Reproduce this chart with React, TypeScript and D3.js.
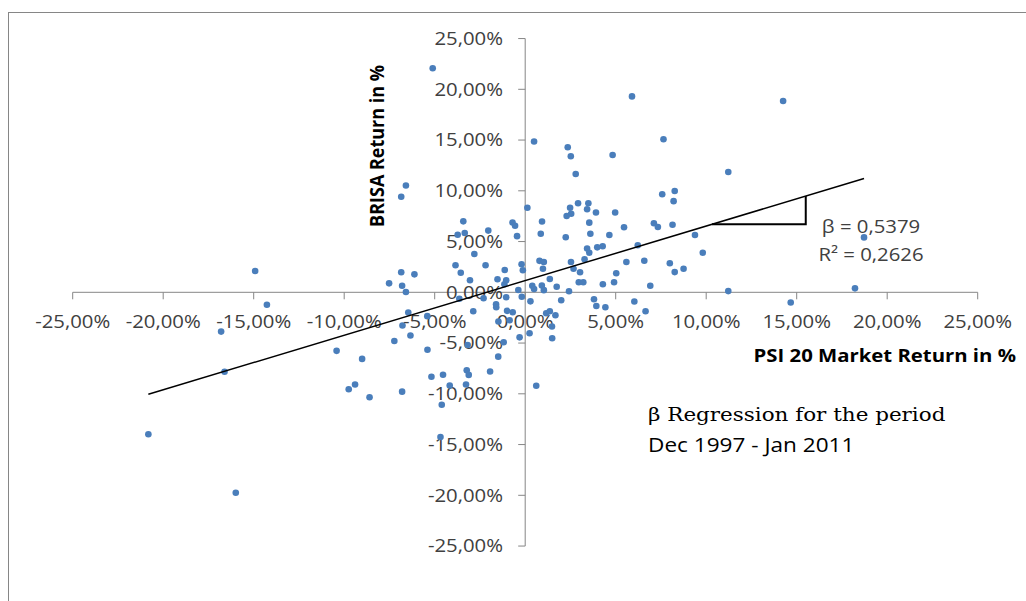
import * as d3 from 'd3';

// PSI 20 monthly market return (%), x axis
const psiReturns = [
  -5.11, -6.59, -6.85, 0.12, -3.42, -0.70, -0.56, -3.34, -3.73, -2.04,
  -0.45, -2.81, -3.85, -2.19, -1.13, -0.20, -0.13, -6.85, -6.12, -7.52,
  -6.80, -3.56, -3.05, -1.53, -1.05, -1.15, -6.59, -0.38, -3.64, -2.30,
  -1.61, -1.60, -1.05, -0.19, 0.29, -6.46, -2.87, -5.41, -1.00, -0.69,
  -0.86, -1.48, -6.78, -6.34, -7.23, -5.40, -3.18, -1.19, -0.31, -10.42,
  -9.01, -1.49, -5.18, -4.54, -3.23, -3.12, -1.94, -9.75, -9.40, -8.60,
  -6.80, -3.27, -4.17, -4.61, -4.68, -20.82, -15.99, -16.61, -14.92, -14.27,
  -16.80, 2.79, 2.92, 3.49, 2.48, 3.42, 3.91, 2.54, 2.29, 4.97,
  7.57, 8.26, 8.20, 0.93, 3.54, 7.11, 7.33, 8.14, 5.46, 0.86,
  3.60, 4.65, 2.24, 9.38, 3.42, 3.54, 3.98, 4.28, 6.22, 9.81,
  0.79, 1.03, 2.53, 3.28, 5.59, 6.58, 7.99, 0.98, 2.67, 3.03,
  5.03, 8.26, 8.75, 1.36, 0.39, 0.49, 0.92, 1.03, 1.74, 2.42,
  2.96, 3.21, 4.29, 4.91, 6.91, 1.99, 3.80, 3.93, 4.43, 6.03,
  6.65, 1.16, 1.36, 1.67, 1.48, 0.24, 1.49, 0.61, 5.90, 0.49,
  7.64, 2.35, 2.52, 4.83, 11.22, 14.25, 18.72, 11.22, 18.22, 14.67,
];

// BRISA monthly return (%), y axis
const brisaReturns = [
  22.07, 10.52, 9.42, 8.33, 6.99, 6.88, 6.56, 5.84, 5.67, 6.08,
  5.53, 3.77, 2.67, 2.66, 2.20, 2.76, 2.17, 1.98, 1.77, 0.88,
  0.65, 1.92, 1.19, 1.29, 1.19, 0.80, 0.03, 0.23, -0.64, -0.59,
  -1.18, -1.48, -0.49, -0.44, -0.89, -1.99, -1.87, -2.35, -1.83, -1.97,
  -2.76, -2.88, -3.27, -4.25, -4.80, -5.66, -5.19, -4.92, -4.44, -5.77,
  -6.56, -6.34, -8.32, -8.13, -7.68, -8.14, -7.80, -9.55, -9.09, -10.34,
  -9.79, -9.08, -9.18, -11.08, -14.26, -13.99, -19.75, -7.83, 2.10, -1.22,
  -3.87, 11.65, 8.77, 8.77, 8.33, 8.18, 7.86, 7.74, 7.52, 7.86,
  9.66, 9.98, 8.98, 6.98, 6.86, 6.80, 6.43, 6.65, 6.41, 5.77,
  5.77, 5.65, 5.43, 5.65, 4.32, 3.89, 4.43, 4.54, 4.64, 3.89,
  3.10, 2.99, 2.99, 3.26, 2.99, 3.11, 2.86, 2.32, 2.32, 1.98,
  1.87, 1.99, 2.32, 1.31, 0.65, 0.32, 0.67, 0.21, 0.55, 0.10,
  0.99, 0.99, 0.79, 0.99, 0.64, -0.78, -0.68, -1.35, -1.48, -0.91,
  -1.86, -2.07, -1.86, -2.26, -3.37, -4.04, -4.53, -9.20, 19.30, 14.85,
  15.08, 14.29, 13.41, 13.52, 11.85, 18.85, 5.41, 0.12, 0.39, -1.00,
];

const axisTicks = [-25, -20, -15, -10, -5, 0, 5, 10, 15, 20, 25];

// regression results shown on the chart
const beta = 0.5379;
const alpha = 1.15;
const rSquared = 0.2626;
const slopeMarker = [10.32, 15.5];

const W = 1026;
const H = 601;
const SX = 1.13; // reference text is a little wide
const axisColor = '#868686';
const textColor = '#404040';

const fmt = (v: number) => `${v.toFixed(2).replace('.', ',')}%`;

export default function App() {
  const x = d3.scaleLinear().domain([-25, 25]).range([72.7, 977.7]);
  const y = d3.scaleLinear().domain([-25, 25]).range([546.05, 38.55]);

  const points = psiReturns.map((v, i) => ({ px: v, py: brisaReturns[i] }));
  const fit = (v: number) => alpha + beta * v;
  const [xMin, xMax] = d3.extent(psiReturns) as [number, number];

  const line = d3.line<number>().x(d => x(d)).y(d => y(fit(d)));
  const tri = d3.line<[number, number]>().x(d => x(d[0])).y(d => y(d[1]));
  const triPts: [number, number][] = [
    [slopeMarker[0], fit(slopeMarker[0])],
    [slopeMarker[1], fit(slopeMarker[0])],
    [slopeMarker[1], fit(slopeMarker[1])],
  ];

  const x0 = x(0);
  const y0 = y(0);

  return (
    <svg
      width={W}
      height={H}
      style={{ position: 'absolute', left: 0, top: 0, display: 'block', background: '#fff' }}
      fontFamily="'Open Sans', sans-serif"
    >
      <rect x={8.5} y={12.5} width={W} height={H} fill="none" stroke={axisColor} strokeWidth={1} />

      {/* x axis */}
      <line x1={x(-25)} x2={x(25)} y1={y0} y2={y0} stroke={axisColor} />
      {axisTicks.map(t => (
        <line key={'xt' + t} x1={x(t)} x2={x(t)} y1={y0} y2={y0 + 7} stroke={axisColor} />
      ))}
      {axisTicks.map(t => (
        <text
          key={'xl' + t}
          transform={`translate(${x(t)},328) scale(${SX},1)`}
          textAnchor="middle"
          fontSize={18}
          fill={textColor}
        >
          {fmt(t)}
        </text>
      ))}

      {/* y axis */}
      <line x1={x0} x2={x0} y1={y(25)} y2={y(-25)} stroke={axisColor} />
      {axisTicks.map(t => (
        <line key={'yt' + t} x1={x0 - 7} x2={x0} y1={y(t)} y2={y(t)} stroke={axisColor} />
      ))}
      {axisTicks.map(t => (
        <text
          key={'yl' + t}
          transform={`translate(503,${y(t) + 6.4}) scale(${SX},1)`}
          textAnchor="end"
          fontSize={18}
          fill={textColor}
        >
          {fmt(t)}
        </text>
      ))}

      {/* axis titles */}
      <text
        transform={`translate(384,146) scale(${SX},1) rotate(-90)`}
        textAnchor="middle"
        fontSize={18}
        fontWeight="bold"
        fill="#000"
      >
        BRISA Return in %
      </text>
      <text
        transform={`translate(1016,362) scale(${SX},1)`}
        textAnchor="end"
        fontSize={18}
        fontWeight="bold"
        fill="#000"
      >
        PSI 20 Market Return in %
      </text>

      {/* points */}
      {points.map((d, i) => (
        <circle key={i} cx={x(d.px)} cy={y(d.py)} r={3.3} fill="#4a7ebb" />
      ))}

      {/* trend line and slope marker */}
      <path d={line([xMin, xMax]) || ''} fill="none" stroke="#000" strokeWidth={1.5} />
      <path d={tri(triPts) || ''} fill="none" stroke="#000" strokeWidth={2} />

      <text transform={`translate(871,232.5) scale(${SX},1)`} textAnchor="middle" fontSize={18} fill={textColor}>
        {`β = ${beta.toFixed(4).replace('.', ',')}`}
      </text>
      <text transform={`translate(871,260.5) scale(${SX},1)`} textAnchor="middle" fontSize={18} fill={textColor}>
        {`R² = ${rSquared.toFixed(4).replace('.', ',')}`}
      </text>

      <text
        transform={`translate(648,421) scale(${SX},1)`}
        fontFamily="'DejaVu Serif', serif"
        fontSize={19}
        fill="#000"
      >
        β Regression for the period
      </text>
      <text transform={`translate(648,452) scale(${SX},1)`} fontSize={20} fill="#000">
        Dec 1997 - Jan 2011
      </text>
    </svg>
  );
}
